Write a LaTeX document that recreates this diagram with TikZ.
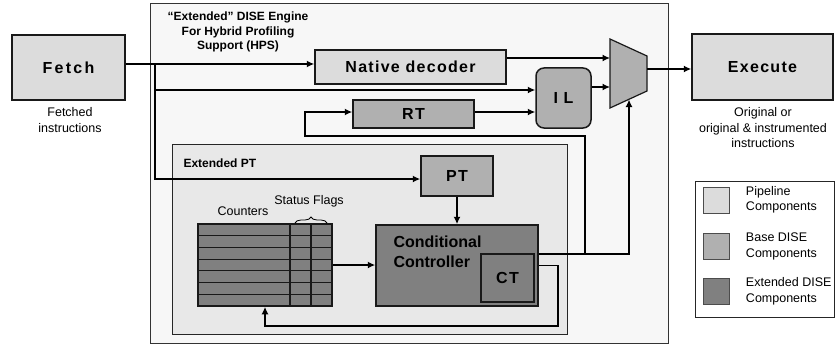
\documentclass[tikz,border=0pt]{standalone}
\usepackage{fontspec}
\setmainfont{Liberation Sans}
\usepackage{tikz}
\usetikzlibrary{positioning,arrows.meta,decorations.pathreplacing}

\definecolor{pipegray}{HTML}{DCDCDC}
\definecolor{basegray}{HTML}{B0B0B0}
\definecolor{extgray}{HTML}{808080}
\definecolor{enginebg}{HTML}{F7F7F7}
\definecolor{extptbg}{HTML}{E8E8E8}

\newcommand{\boxfont}{\fontsize{16}{18}\selectfont\bfseries\addfontfeature{LetterSpace=8}}
\newcommand{\smallfont}{\fontsize{12.5}{15.5}\selectfont}
\newcommand{\titlefont}{\fontsize{12}{14.5}\selectfont\bfseries}

\tikzstyle{unit}    = [draw=black!90, line width=1.5pt, inner sep=0pt, font=\boxfont]
\tikzstyle{pipe}    = [unit, fill=pipegray]
\tikzstyle{base}    = [unit, fill=basegray]
\tikzstyle{ext}     = [unit, fill=extgray]
\tikzstyle{swatch}  = [draw=black!70, line width=0.9pt, minimum width=26, minimum height=26]
\tikzstyle{caption} = [font=\smallfont, align=center]
\tikzstyle{heading} = [font=\titlefont]
\tikzstyle{wire}    = [line width=1.8pt]
\tikzstyle{arrow}   = [wire, -{Latex[length=7.5pt,width=7pt]}]

\begin{document}
\begin{tikzpicture}[x=1pt,y=-1pt]
	\useasboundingbox (0,0) rectangle (835,345);

	% frames
	\node[draw=black!80, line width=0.9pt, fill=enginebg, minimum width=518, minimum height=340, anchor=north west] (engine) at (150,3) {};
	\node[heading, align=center] (enginetitle) at (238,32) {``Extended'' DISE Engine\\For Hybrid Profiling\\Support (HPS)};
	\node[draw=black!85, line width=1.2pt, fill=extptbg, minimum width=395, minimum height=190, anchor=north west] (extpt) at (172,144) {};
	\node[heading, anchor=west] (extpttitle) at (180,163) {Extended PT};

	% pipeline
	\node[pipe, minimum width=113, minimum height=65] (fetch) at (68.5,67.5) {\addfontfeature{LetterSpace=14}Fetch};
	\node[caption] (fetchcap) at (70,120) {Fetched\\instructions};
	\node[pipe, minimum width=141, minimum height=66] (execute) at (762.5,67) {Execute};
	\node[caption] (execap) at (763,128) {Original or\\original \& instrumented\\instructions};

	% base DISE
	\node[pipe, minimum width=191, minimum height=34] (decoder) at (410.5,67) {Native decoder};
	\node[base, minimum width=121, minimum height=28] (RT) at (413.5,114) {RT};
	\node[base, rounded corners=8pt, minimum width=55, minimum height=60] (IL) at (563.5,98) {I L};
	\draw[unit, line width=1.2pt, fill=basegray] (610,39) coordinate (mux1) -- (647,56) coordinate (mux2)
		-- (647,91) coordinate (mux3) -- (610,108) coordinate (mux4) -- cycle;

	% extended DISE
	\node[base, minimum width=72, minimum height=40] (PT) at (457,176) {PT};
	\node[ext, minimum width=162, minimum height=81] (CC) at (457,265.5) {};
	\node[anchor=west, align=left, font=\fontsize{16}{20}\selectfont\bfseries] (cclabel) at (390,252) {Conditional\\Controller};
	\node[ext, minimum width=53, minimum height=48] (CT) at (507.5,278) {CT};

	\node[ext, minimum width=134, minimum height=82] (counters) at (265,265) {};
	\foreach \i in {1,...,6}
		\draw[black!90, line width=1.2pt] (198,{224+\i*11.714}) -- (332,{224+\i*11.714});
	\draw[black!90, line width=1.2pt] (290,224) -- (290,306);
	\draw[black!90, line width=1.2pt] (311,224) -- (311,306);
	\node[caption] (counterslabel) at (243,211) {Counters};
	\node[caption] (flagslabel) at (309,201) {Status Flags};
	\draw[decorate, decoration={brace, amplitude=6pt}, line width=0.8pt] (295,223) -- (327,223);

	% fetch fan-out
	\coordinate (split) at (155,64);
	\coordinate (ilup) at ([yshift=8pt]IL.west);
	\draw[wire] (fetch.east |- split) -- (split);
	\draw[arrow] (split) -- (split -| decoder.west);
	\draw[arrow] (split |- ilup) -- (ilup);
	\draw[arrow] (split) |- ([yshift=-3pt]PT.west);

	% into the mux
	\coordinate (decout) at ([yshift=9pt]decoder.east);
	\coordinate (ilout) at ([yshift=11pt]IL.east);
	\coordinate (rtout) at ([yshift=2pt]RT.east);
	\coordinate (muxout) at (647,69);
	\draw[arrow] (decout) -- (decout -| mux1);
	\draw[arrow] (ilout) -- (ilout -| mux1);
	\draw[arrow] (rtout) -- (rtout -| IL.west);
	\draw[arrow] (muxout) -- (muxout -| execute.west);

	% controller outputs
	\coordinate (ccout) at ([yshift=11.5pt]CC.east);
	\coordinate (muxin) at (629,99.5);
	\coordinate (tap) at (585,254);
	\coordinate (rtloop) at (305,136);
	\coordinate (rtin) at ([yshift=2pt]RT.west);
	\coordinate (ctret) at (558,326);
	\draw[arrow] (ccout) -| (muxin);
	\draw[arrow] (tap) |- (rtloop) |- (rtin);
	\draw[arrow] (CC.east) -| (ctret) -| (counters.south);
	\draw[arrow] (counters.east) -- (counters.east -| CC.west);
	\draw[arrow] (PT.south) -- (PT.south |- CC.north);

	% legend
	\node[draw=black!85, line width=0.8pt, fill=white, minimum width=139, minimum height=136] (legend) at (764.5,249) {};
	\node[swatch, fill=pipegray] (sw1) at (716,200) {};
	\node[swatch, fill=basegray] (sw2) at (716,246.5) {};
	\node[swatch, fill=extgray] (sw3) at (716,291.5) {};
	\node[font=\smallfont, align=left, right=13pt of sw1] (lg1) {Pipeline\\Components};
	\node[font=\smallfont, align=left, right=13pt of sw2] (lg2) {Base DISE\\Components};
	\node[font=\smallfont, align=left, right=13pt of sw3] (lg3) {Extended DISE\\Components};
\end{tikzpicture}
\end{document}
